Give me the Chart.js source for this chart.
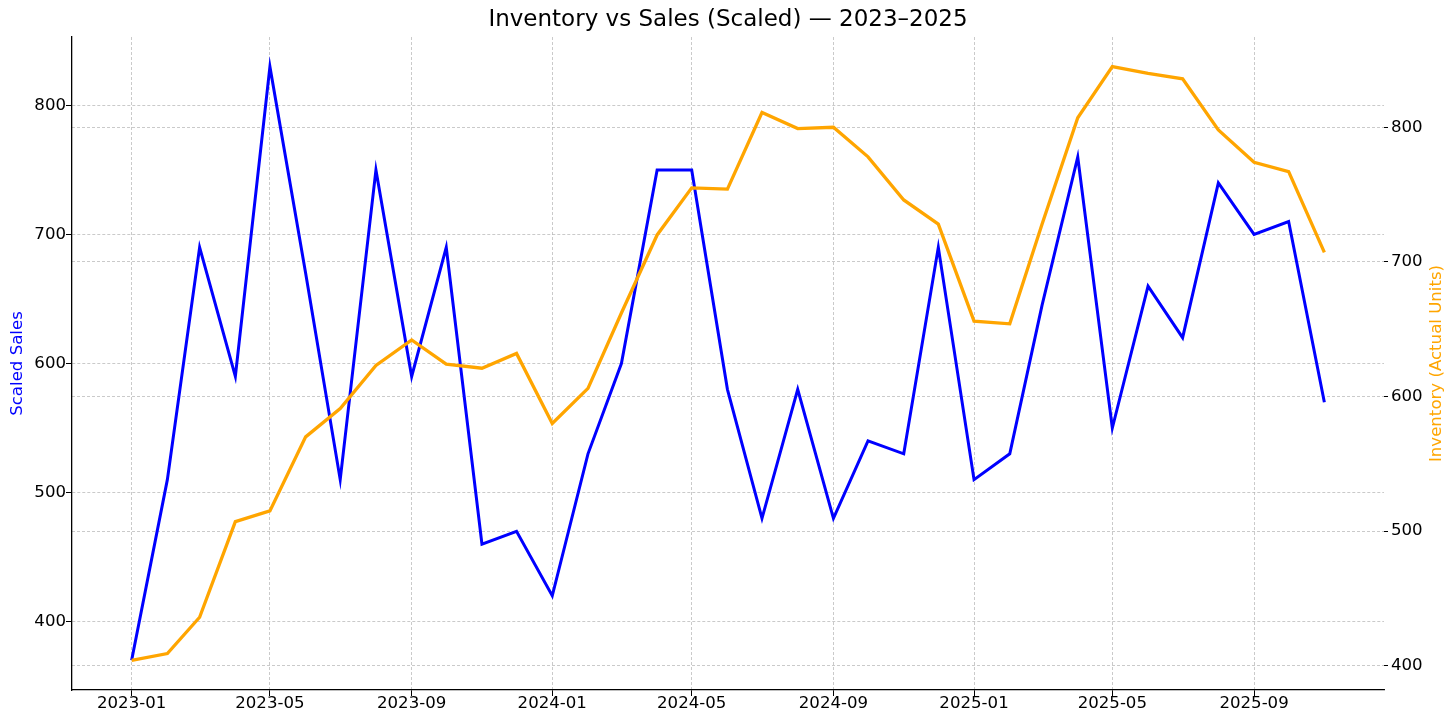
<!DOCTYPE html>
<html>
<head>
<meta charset="utf-8">
<title>Inventory vs Sales</title>
<script src="https://cdn.jsdelivr.net/npm/chart.js@4"></script>
<style>
  html, body { margin: 0; padding: 0; background: #fff; }
  #wrap { width: 1456px; height: 723px; position: relative; }
</style>
</head>
<body>
<div id="wrap"><canvas id="chart"></canvas></div>
<script>
// monthly points, Jan 2023 .. Nov 2025
const months = [
  '2023-01', '2023-02', '2023-03', '2023-04', '2023-05', '2023-06',
  '2023-07', '2023-08', '2023-09', '2023-10', '2023-11', '2023-12',
  '2024-01', '2024-02', '2024-03', '2024-04', '2024-05', '2024-06',
  '2024-07', '2024-08', '2024-09', '2024-10', '2024-11', '2024-12',
  '2025-01', '2025-02', '2025-03', '2025-04', '2025-05', '2025-06',
  '2025-07', '2025-08', '2025-09', '2025-10', '2025-11',
];
const scaledSales = [
  370, 510, 690, 590, 830, 670, 510, 750, 590, 690, 460, 470,
  420, 530, 600, 750, 750, 580, 480, 580, 480, 540, 530, 690,
  510, 530, 645, 760, 550, 660, 620, 740, 700, 710, 570,
];
const inventory = [
  404, 409, 436, 507, 515, 570, 591, 623, 642, 624, 621, 632,
  580, 606, 662, 720, 755, 754, 811, 799, 800, 778, 746, 728,
  656, 654, 728, 807, 845, 840, 836, 798, 774, 767, 707,
];
const xTickLabels = ['2023-01', '2023-05', '2023-09', '2024-01', '2024-05', '2024-09', '2025-01', '2025-05', '2025-09'];
const salesTicks = [400, 500, 600, 700, 800];
const inventoryTicks = [400, 500, 600, 700, 800];

const FONT = '"DejaVu Sans", "Liberation Sans", sans-serif';
const GRID = 'rgba(176,176,176,0.75)';

// days since first month, so the x axis spacing follows the calendar
function dayOf(label) {
  const [y, m] = label.split('-').map(Number);
  return Date.UTC(y, m - 1, 1) / 86400000;
}
const day0 = dayOf(months[0]);
const xOf = (label) => dayOf(label) - day0;
const xs = months.map(xOf);

// 5% margins like the original plot
function padded(values) {
  const lo = Math.min(...values);
  const hi = Math.max(...values);
  const pad = (hi - lo) * 0.05;
  return { min: lo - pad, max: hi + pad };
}
const xRange = padded(xs);
const salesRange = padded(scaledSales);
const invRange = padded(inventory);

const tickLabelByX = {};
xTickLabels.forEach((l) => { tickLabelByX[xOf(l)] = l; });

const axisTitles = {
  id: 'axisTitles',
  afterDraw(chart) {
    const { ctx, chartArea } = chart;
    const cy = (chartArea.top + chartArea.bottom) / 2;
    ctx.save();
    ctx.font = `16.6px ${FONT}`;
    ctx.textAlign = 'center';
    ctx.textBaseline = 'middle';

    ctx.save();
    ctx.translate(18, cy);
    ctx.rotate(-Math.PI / 2);
    ctx.fillStyle = 'blue';
    ctx.fillText('Scaled Sales', 0, 0);
    ctx.restore();

    ctx.translate(chart.width - 19, cy);
    ctx.rotate(-Math.PI / 2);
    ctx.fillStyle = 'orange';
    ctx.fillText('Inventory (Actual Units)', 0, 0);
    ctx.restore();
  },
};

Chart.defaults.font.family = FONT;
Chart.defaults.color = '#000';

new Chart(document.getElementById('chart'), {
  type: 'line',
  data: {
    datasets: [
      {
        label: 'Inventory',
        data: inventory.map((v, i) => ({ x: xs[i], y: v })),
        yAxisID: 'yInv',
        borderColor: 'orange',
        borderWidth: 3.3,
        pointRadius: 0,
        tension: 0,
        order: 0,
      },
      {
        label: 'Scaled Sales',
        data: scaledSales.map((v, i) => ({ x: xs[i], y: v })),
        yAxisID: 'ySales',
        borderColor: 'blue',
        borderWidth: 3,
        pointRadius: 0,
        tension: 0,
        order: 1,
      },
    ],
  },
  options: {
    responsive: true,
    maintainAspectRatio: false,
    animation: false,
    layout: { padding: 0 },
    plugins: {
      legend: { display: false },
      tooltip: { enabled: false },
      title: {
        display: true,
        text: 'Inventory vs Sales (Scaled) — 2023–2025',
        color: '#000',
        font: { size: 23, weight: 'normal', family: FONT },
        padding: { top: 6, bottom: 3.4 },
      },
    },
    scales: {
      x: {
        type: 'linear',
        min: xRange.min,
        max: xRange.max,
        afterBuildTicks: (axis) => { axis.ticks = xTickLabels.map((l) => ({ value: xOf(l) })); },
        afterFit: (axis) => { axis.height = 33; },
        ticks: {
          callback: (value) => tickLabelByX[value] || '',
          font: { size: 16.6 },
          padding: -2,
          maxRotation: 0,
          autoSkip: false,
        },
        grid: { color: GRID, lineWidth: 0.9, tickLength: 6, tickColor: '#000', tickWidth: 1 },
        border: { display: true, color: '#000', width: 1.3, dash: [3, 2] },
      },
      ySales: {
        type: 'linear',
        position: 'left',
        min: salesRange.min,
        max: salesRange.max,
        afterBuildTicks: (axis) => { axis.ticks = salesTicks.map((v) => ({ value: v })); },
        afterFit: (axis) => { axis.width = 72; },
        ticks: { font: { size: 16.6 }, padding: 0 },
        grid: { color: GRID, lineWidth: 0.9, tickLength: 6, tickColor: '#000', tickWidth: 1 },
        border: { display: true, color: '#000', width: 1.3, dash: [3, 2] },
      },
      yInv: {
        type: 'linear',
        position: 'right',
        min: invRange.min,
        max: invRange.max,
        afterBuildTicks: (axis) => { axis.ticks = inventoryTicks.map((v) => ({ value: v })); },
        afterFit: (axis) => { axis.width = 72; },
        ticks: { font: { size: 16.6 }, padding: 3 },
        grid: { color: GRID, lineWidth: 0.9, tickLength: 4, tickColor: '#000', tickWidth: 1 },
        border: { display: false, dash: [3, 2] },
      },
    },
  },
  plugins: [axisTitles],
});
</script>
</body>
</html>
